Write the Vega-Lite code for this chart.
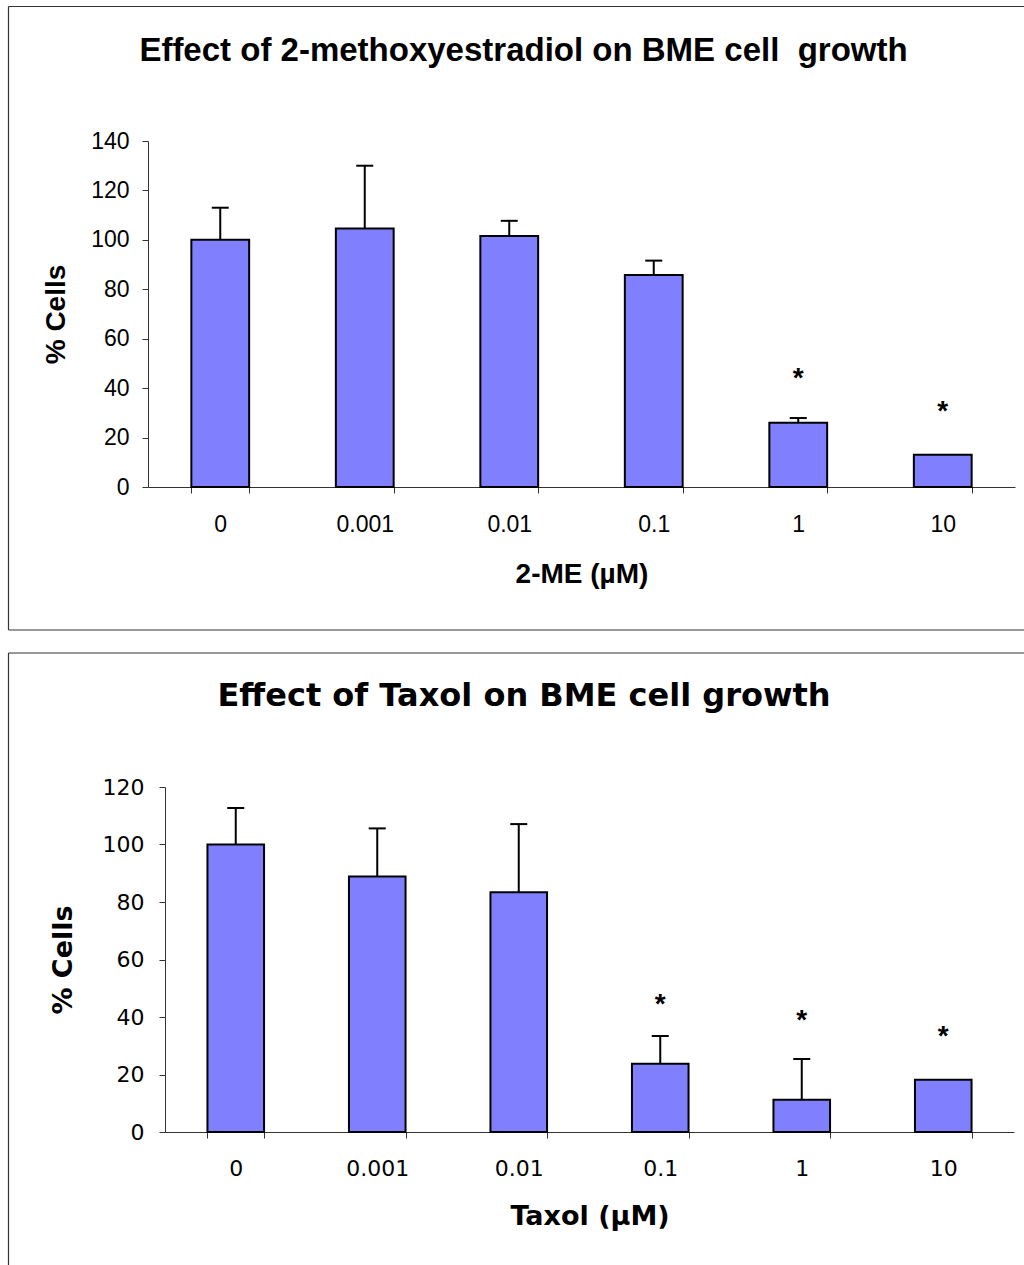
{
  "$schema": "https://vega.github.io/schema/vega-lite/v6.json",
  "background": "white",
  "padding": {"left": 7, "top": 5, "right": 0, "bottom": 0},
  "spacing": 21,
  "config": {
    "view": {"stroke": null},
    "axis": {"grid": false, "domainColor": "#333", "tickColor": "#333", "labelColor": "#000", "titleColor": "#000", "domainWidth": 1, "tickWidth": 1}
  },
  "datasets": {
    "me": [
      {"conc": "0", "value": 100, "upper": 113.0, "star_y": null},
      {"conc": "0.001", "value": 104.6, "upper": 130.0, "star_y": null},
      {"conc": "0.01", "value": 101.6, "upper": 107.7, "star_y": null},
      {"conc": "0.1", "value": 85.8, "upper": 91.6, "star_y": null},
      {"conc": "1", "value": 26.0, "upper": 27.9, "star_y": 40.3},
      {"conc": "10", "value": 13.0, "upper": null, "star_y": 27.3}
    ],
    "taxol": [
      {"conc": "0", "value": 100, "upper": 112.7, "star_y": null},
      {"conc": "0.001", "value": 88.9, "upper": 105.6, "star_y": null},
      {"conc": "0.01", "value": 83.4, "upper": 107.1, "star_y": null},
      {"conc": "0.1", "value": 23.7, "upper": 33.4, "star_y": 41.5},
      {"conc": "1", "value": 11.2, "upper": 25.4, "star_y": 35.9},
      {"conc": "10", "value": 18.2, "upper": null, "star_y": 30.2}
    ]
  },
  "vconcat": [
    {
      "width": 867,
      "height": 346,
      "title": {"text": "Effect of 2-methoxyestradiol on BME cell \u00a0growth", "font": "Liberation Sans", "fontSize": 33, "fontWeight": "bold", "color": "#000", "anchor": "middle", "frame": "group", "offset": -62, "dx": -58},
      "layer": [
        {
          "data": {"values": [{}]},
          "layer": [
            {"mark": {"type": "rule", "color": "#333", "strokeWidth": 1.2},
             "encoding": {
               "x": {"datum": 0, "type": "quantitative", "scale": {"domain": [0, 1], "range": [-139.5, 876], "zero": false, "nice": false}, "axis": null},
               "y": {"datum": 0, "type": "quantitative", "scale": {"domain": [0, 1], "range": [-134.5, 489], "zero": false, "nice": false}, "axis": null},
               "y2": {"datum": 1}}},
            {"mark": {"type": "rule", "color": "#333", "strokeWidth": 1.2},
             "encoding": {
               "x": {"datum": 0, "type": "quantitative", "scale": {"domain": [0, 1], "range": [-139.5, 876], "zero": false, "nice": false}, "axis": null},
               "x2": {"datum": 1},
               "y": {"datum": 0, "type": "quantitative", "scale": {"domain": [0, 1], "range": [-134.5, 489], "zero": false, "nice": false}, "axis": null}}},
            {"mark": {"type": "rule", "color": "#333", "strokeWidth": 1.2},
             "encoding": {
               "x": {"datum": 0, "type": "quantitative", "scale": {"domain": [0, 1], "range": [-139.5, 876], "zero": false, "nice": false}, "axis": null},
               "x2": {"datum": 1},
               "y": {"datum": 1, "type": "quantitative", "scale": {"domain": [0, 1], "range": [-134.5, 489], "zero": false, "nice": false}, "axis": null}}}
          ]
        },
        {
          "data": {"name": "me"},
          "encoding": {
            "x": {"field": "conc", "type": "nominal", "sort": null,
                  "scale": {"paddingInner": 0.6, "paddingOuter": 0.3},
                  "axis": {"title": "2-ME (µM)", "labelAngle": 0, "tickBand": "extent", "tickSize": 6, "labelPadding": 20, "labelFont": "Liberation Sans", "labelFontSize": 23, "titleFont": "Liberation Sans", "titleFontSize": 28, "titleFontWeight": "bold", "titlePadding": 24}},
            "y": {"field": "value", "type": "quantitative", "title": "% Cells",
                  "scale": {"domain": [0, 140], "nice": false},
                  "axis": {"values": [0, 20, 40, 60, 80, 100, 120, 140], "tickSize": 6, "labelPadding": 13, "labelFont": "Liberation Sans", "labelFontSize": 23, "titleFont": "Liberation Sans", "titleFontSize": 28, "titleFontWeight": "bold", "titlePadding": 20}}
          },
          "layer": [
            {"mark": {"type": "bar", "fill": "#8080FF", "stroke": "#000", "strokeWidth": 2}},
            {"transform": [{"filter": "datum.upper != null"}],
             "mark": {"type": "rule", "color": "#000", "strokeWidth": 2},
             "encoding": {"y2": {"field": "upper"}}},
            {"transform": [{"filter": "datum.upper != null"}],
             "mark": {"type": "tick", "color": "#000", "thickness": 2, "size": 17, "opacity": 1},
             "encoding": {"y": {"field": "upper", "type": "quantitative", "title": "% Cells"}}},
            {"transform": [{"filter": "datum.star_y != null"}],
             "mark": {"type": "text", "text": "*", "font": "Liberation Sans", "fontWeight": "bold", "fontSize": 28, "baseline": "alphabetic", "color": "#000"},
             "encoding": {"y": {"field": "star_y", "type": "quantitative", "title": "% Cells"}}}
          ]
        }
      ],
      "resolve": {"scale": {"x": "independent", "y": "independent"}, "axis": {"x": "independent", "y": "independent"}}
    },
    {
      "width": 866,
      "height": 345,
      "title": {"text": "Effect of Taxol on BME cell growth", "font": "DejaVu Sans", "fontSize": 32, "fontWeight": "bold", "color": "#000", "anchor": "middle", "frame": "group", "offset": -61, "dx": -57},
      "layer": [
        {
          "data": {"values": [{}]},
          "layer": [
            {"mark": {"type": "rule", "color": "#333", "strokeWidth": 1.2},
             "encoding": {
               "x": {"datum": 0, "type": "quantitative", "scale": {"domain": [0, 1], "range": [-139.5, 876], "zero": false, "nice": false}, "axis": null},
               "y": {"datum": 0, "type": "quantitative", "scale": {"domain": [0, 1], "range": [-134, 479], "zero": false, "nice": false}, "axis": null},
               "y2": {"datum": 1}}},
            {"mark": {"type": "rule", "color": "#333", "strokeWidth": 1.2},
             "encoding": {
               "x": {"datum": 0, "type": "quantitative", "scale": {"domain": [0, 1], "range": [-139.5, 876], "zero": false, "nice": false}, "axis": null},
               "x2": {"datum": 1},
               "y": {"datum": 0, "type": "quantitative", "scale": {"domain": [0, 1], "range": [-134, 479], "zero": false, "nice": false}, "axis": null}}}
          ]
        },
        {
          "data": {"name": "taxol"},
          "encoding": {
            "x": {"field": "conc", "type": "nominal", "sort": null,
                  "scale": {"paddingInner": 0.6, "paddingOuter": 0.3, "range": [17, 866]},
                  "axis": {"title": "Taxol (µM)", "labelAngle": 0, "tickBand": "extent", "tickSize": 6, "labelPadding": 20, "labelFont": "DejaVu Sans", "labelFontSize": 22, "titleFont": "DejaVu Sans", "titleFontSize": 27, "titleFontWeight": "bold", "titlePadding": 24}},
            "y": {"field": "value", "type": "quantitative", "title": "% Cells",
                  "scale": {"domain": [0, 120], "nice": false},
                  "axis": {"values": [0, 20, 40, 60, 80, 100, 120], "offset": -17, "tickSize": 6, "labelPadding": 15, "labelFont": "DejaVu Sans", "labelFontSize": 22, "titleFont": "DejaVu Sans", "titleFontSize": 27, "titleFontWeight": "bold", "titlePadding": 25}}
          },
          "layer": [
            {"mark": {"type": "bar", "fill": "#8080FF", "stroke": "#000", "strokeWidth": 2}},
            {"transform": [{"filter": "datum.upper != null"}],
             "mark": {"type": "rule", "color": "#000", "strokeWidth": 2},
             "encoding": {"y2": {"field": "upper"}}},
            {"transform": [{"filter": "datum.upper != null"}],
             "mark": {"type": "tick", "color": "#000", "thickness": 2, "size": 17, "opacity": 1},
             "encoding": {"y": {"field": "upper", "type": "quantitative", "title": "% Cells"}}},
            {"transform": [{"filter": "datum.star_y != null"}],
             "mark": {"type": "text", "text": "*", "font": "Liberation Sans", "fontWeight": "bold", "fontSize": 28, "baseline": "alphabetic", "color": "#000"},
             "encoding": {"y": {"field": "star_y", "type": "quantitative", "title": "% Cells"}}}
          ]
        }
      ],
      "resolve": {"scale": {"x": "independent", "y": "independent"}, "axis": {"x": "independent", "y": "independent"}}
    }
  ]
}
